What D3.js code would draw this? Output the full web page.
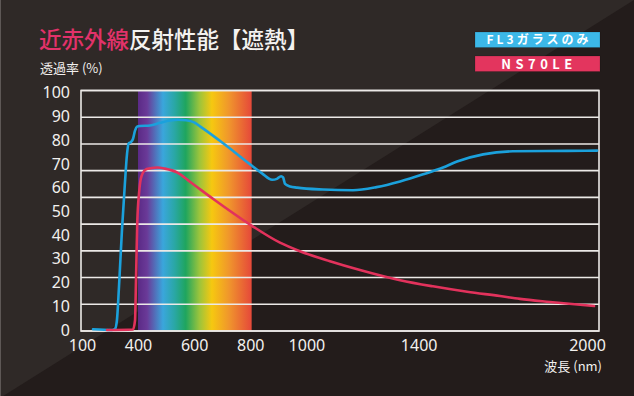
<!DOCTYPE html>
<html>
<head>
<meta charset="utf-8">
<script src="https://cdn.jsdelivr.net/npm/d3@7"></script>
<style>
  html, body { margin: 0; padding: 0; background: #231c1b; }
  svg { display: block; }
  .axis text { fill: #f2f0ee; font-family: "Noto Sans", "DejaVu Sans", sans-serif; font-size: 16px; }
</style>
</head>
<body>
<div class="viz"></div>
<script>
//////////////////////////
// Data
//////////////////////////

var seriesNames = ['FL3ガラスのみ', 'NS70LE'];

var xTicks = [100, 400, 600, 800, 1000, 1400, 2000];
var yTicks = [0, 10, 20, 30, 40, 50, 60, 70, 80, 90, 100];

// visible light band (nm)
var visibleBand = [400, 805];

// FL3 glass only: wavelength (nm) / transmittance (%)
var fl3Wave = [159, 261, 277, 287, 298, 314, 330, 341, 349, 362, 373, 384, 395, 407, 443, 478, 514, 543, 571, 600,
    621, 700, 806, 842, 878, 895, 910, 917, 924, 942, 967, 1059, 1166, 1250, 1334, 1416, 1487, 1537, 1630, 1736, 1929, 2036];
var fl3Trans = [0.3, 0, 0.5, 4, 18, 42, 62, 74, 78.5, 79.2, 80.5, 84, 85.7, 86, 86.2, 87.3, 88.3, 88.6, 88.4, 87.5,
    85.8, 79, 69.2, 66, 63.3, 63.7, 64.8, 64.3, 61.6, 60.5, 60, 59.2, 58.9, 60.2, 62.6, 65.6, 68.5, 71, 74, 75.3, 75.5, 75.6];

// NS70LE: wavelength (nm) / transmittance (%)
var nsWave = [234, 373, 384, 389, 396, 404, 413, 431, 468, 496, 539, 585, 667, 806, 906, 977, 1084, 1191, 1334, 1451,
    1573, 1690, 1761, 1868, 2025];
var nsTrans = [0, 0.2, 4, 20, 45, 58, 65, 67.8, 68.5, 68, 66.4, 62.5, 55.3, 43.9, 36.8, 33.2, 29, 25.3, 21, 18.4,
    16.1, 14.3, 13.1, 11.8, 10.1];

var seriesColors = ['#1ba1dc', '#e2325c'];
var legendColors = ['#3cb8e8', '#e3355e'];

//////////////////////////
// Layout
//////////////////////////

var W = 634, H = 396;
var plot = { left: 81, right: 599, top: 90.5, bottom: 331 };

var svg = d3.select('div.viz')
    .append('svg')
    .attr('width', W)
    .attr('height', H);

var defs = svg.append('defs');

// background: two tone split on the diagonal
svg.append('rect')
    .attr('width', W).attr('height', H)
    .attr('fill', '#231c1b');
svg.append('path')
    .attr('d', 'M0,0 L' + W + ',0 L0,' + (H + 2) + 'Z')
    .attr('fill', '#2f2927');
svg.append('line')
    .attr('x1', 0.5).attr('x2', 0.5).attr('y1', 0).attr('y2', H)
    .attr('stroke', '#5e5856').attr('stroke-width', 1);

// scales: compressed UV part, linear from 400 nm on
var xScale = d3.scaleLinear()
    .domain([100, 400, 2000])
    .range([82, 138, 587]);

var yScale = d3.scaleLinear()
    .domain([0, 100])
    .range([330, 92.7]);

// spectrum band
var grad = defs.append('linearGradient')
    .attr('id', 'spectrum')
    .attr('x1', '0%').attr('x2', '100%').attr('y1', '0%').attr('y2', '0%');
[
    [0, '#5b2a86'], [0.08, '#6a3a98'], [0.22, '#3aa6dc'], [0.32, '#2aa7a6'], [0.42, '#1fa55e'],
    [0.54, '#9bc43c'], [0.65, '#f6c810'], [0.8, '#f0962c'], [1, '#e5483a']
].forEach(function(s) {
    grad.append('stop').attr('offset', s[0]).attr('stop-color', s[1]);
});

svg.append('rect')
    .attr('x', xScale(visibleBand[0]))
    .attr('y', plot.top)
    .attr('width', xScale(visibleBand[1]) - xScale(visibleBand[0]))
    .attr('height', plot.bottom - plot.top)
    .attr('fill', 'url(#spectrum)');

// grid: 10 evenly spaced lines between the frame edges
var gridScale = d3.scaleLinear()
    .domain([0, 9])
    .range([plot.bottom, plot.top]);

svg.append('g')
    .attr('class', 'grid')
    .selectAll('line')
    .data(d3.range(10))
    .enter()
    .append('line')
        .attr('x1', plot.left)
        .attr('x2', plot.right)
        .attr('y1', function(d) { return gridScale(d); })
        .attr('y2', function(d) { return gridScale(d); })
        .attr('stroke', '#ece9e7')
        .attr('stroke-width', 1.6);

svg.append('rect')
    .attr('x', plot.left)
    .attr('y', plot.top)
    .attr('width', plot.right - plot.left)
    .attr('height', plot.bottom - plot.top)
    .attr('fill', 'none')
    .attr('stroke', '#ece9e7')
    .attr('stroke-width', 1.6);

// curves
var line = d3.line()
    .x(function(d) { return xScale(d[0]); })
    .y(function(d) { return yScale(d[1]); })
    .curve(d3.curveMonotoneX);

var series = [
    d3.zip(fl3Wave, fl3Trans),
    d3.zip(nsWave, nsTrans)
];

svg.append('g')
    .attr('class', 'curves')
    .selectAll('path')
    .data(series)
    .enter()
    .append('path')
        .attr('d', line)
        .attr('fill', 'none')
        .attr('stroke', function(d, i) { return seriesColors[i]; })
        .attr('stroke-width', 2.6)
        .attr('stroke-linejoin', 'round')
        .attr('stroke-linecap', 'round');

// axes
var yAxis = svg.append('g')
    .attr('class', 'axis y-axis')
    .attr('transform', 'translate(70,0)')
    .call(d3.axisLeft(yScale).tickValues(yTicks).tickSize(0).tickPadding(0));
yAxis.select('.domain').remove();

var xAxis = svg.append('g')
    .attr('class', 'axis x-axis')
    .attr('transform', 'translate(0,340)')
    .call(d3.axisBottom(xScale).tickValues(xTicks).tickFormat(d3.format('d')).tickSize(0).tickPadding(0));
xAxis.select('.domain').remove();

svg.selectAll('.axis text').attr('font-size', null).attr('font-family', null);

// axis titles
svg.append('text')
    .attr('x', 602)
    .attr('y', 371)
    .attr('text-anchor', 'end')
    .attr('fill', '#f2f0ee')
    .attr('font-family', '"Noto Sans CJK JP", sans-serif')
    .attr('font-size', 13)
    .text('波長 (nm)');

svg.append('text')
    .attr('x', 40)
    .attr('y', 73)
    .attr('fill', '#f2f0ee')
    .attr('font-family', '"Noto Sans CJK JP", sans-serif')
    .attr('font-size', 13)
    .text('透過率 (%)');

// title
var title = svg.append('text')
    .attr('x', 39)
    .attr('y', 48)
    .attr('font-family', '"Noto Sans CJK JP", sans-serif')
    .attr('font-weight', 500)
    .attr('font-size', 22.5);
title.append('tspan').attr('fill', '#e2326a').text('近赤外線');
title.append('tspan').attr('fill', '#f4f2f0').text('反射性能【遮熱】');

// legend
var legend = svg.append('g')
    .attr('class', 'legend')
    .selectAll('g')
    .data(seriesNames)
    .enter()
    .append('g')
        .attr('transform', function(d, i) { return 'translate(475,' + (32 + i * 24) + ')'; });

legend.append('rect')
    .attr('width', 125)
    .attr('height', 15.5)
    .attr('fill', function(d, i) { return legendColors[i]; })
    .attr('stroke', 'rgba(0,0,0,0.25)')
    .attr('stroke-width', 0.6);

legend.append('text')
    .attr('x', 64)
    .attr('y', 8)
    .attr('dy', '0.36em')
    .attr('text-anchor', 'middle')
    .attr('fill', '#ffffff')
    .attr('font-family', '"Noto Sans CJK JP", sans-serif')
    .attr('font-weight', 700)
    .attr('font-size', function(d, i) { return i === 0 ? 12 : 13; })
    .attr('letter-spacing', function(d, i) { return i === 0 ? 3 : 4.5; })
    .text(function(d) { return d; });
</script>
</body>
</html>
